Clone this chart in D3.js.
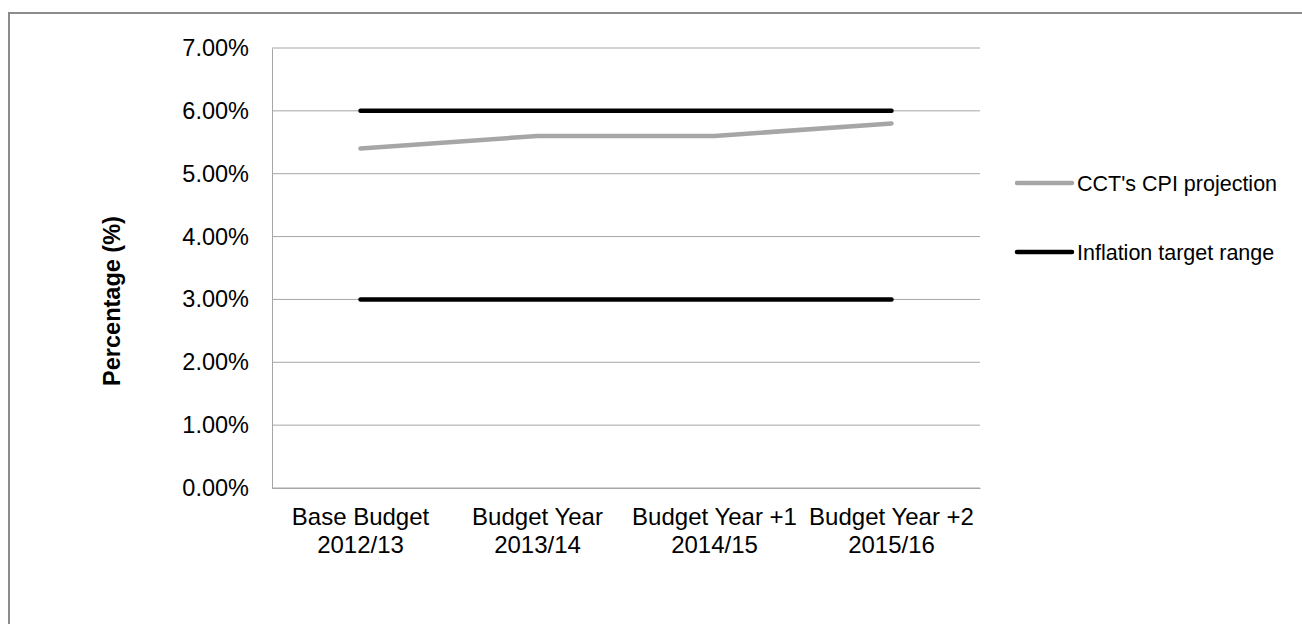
<!DOCTYPE html>
<html>
<head>
<meta charset="utf-8">
<script src="https://cdn.jsdelivr.net/npm/d3@7"></script>
<style>
  html, body { margin: 0; padding: 0; background: #fff; }
  svg { display: block; font-family: "Liberation Sans", Arial, sans-serif; }
</style>
</head>
<body>
<svg id="chart" width="1302" height="624"></svg>
<script>
// Budget periods along the x axis (two-line labels)
const categories = [
  ["Base Budget", "2012/13"],
  ["Budget Year", "2013/14"],
  ["Budget Year +1", "2014/15"],
  ["Budget Year +2", "2015/16"]
];
// CPI projection, percent
const cpiProjection = [5.4, 5.6, 5.6, 5.8];
// Inflation target band, lower and upper bounds, percent
const targetUpper = [6.0, 6.0, 6.0, 6.0];
const targetLower = [3.0, 3.0, 3.0, 3.0];
const yTicks = [0, 1, 2, 3, 4, 5, 6, 7];
const legendLabels = ["CCT's CPI projection", "Inflation target range"];

const svg = d3.select("#chart");
const margin = { left: 272, right: 322, top: 48, bottom: 136 };
const W = 1302, H = 624;
const FONT = "Liberation Sans, Arial, sans-serif";

// Outer chart frame
svg.append("rect")
  .attr("x", 9).attr("y", 13)
  .attr("width", W).attr("height", H)
  .attr("fill", "none").attr("stroke", "#8c8c8c").attr("stroke-width", 2);

const x = d3.scaleBand()
  .domain(categories.map((d, i) => i))
  .range([margin.left, W - margin.right]);

const y = d3.scaleLinear()
  .domain([0, 7])
  .range([H - margin.bottom, margin.top]);

// Horizontal gridlines
svg.append("g")
  .selectAll("line")
  .data(yTicks)
  .join("line")
  .attr("x1", margin.left).attr("x2", W - margin.right)
  .attr("y1", d => y(d)).attr("y2", d => y(d))
  .attr("stroke", "#a6a6a6").attr("stroke-width", 1);

// Y axis
const yAxis = svg.append("g")
  .attr("transform", `translate(${margin.left},0)`)
  .call(d3.axisLeft(y).tickValues(yTicks).tickSize(0).tickPadding(23)
    .tickFormat(d => d.toFixed(2) + "%"));
yAxis.select(".domain").attr("stroke", "#a6a6a6");
yAxis.selectAll("text").attr("font-size", "23.5px").attr("fill", "#000")
  .attr("font-family", FONT);

// X axis
const xAxis = svg.append("g")
  .attr("transform", `translate(0,${y(0)})`)
  .call(d3.axisBottom(x).tickSize(0).tickFormat(""));
xAxis.select(".domain").attr("stroke", "#a6a6a6");
xAxis.selectAll(".tick").each(function(d) {
  const t = d3.select(this).select("text")
    .attr("y", 0).attr("dy", 0)
    .attr("font-size", "24px").attr("fill", "#000")
    .attr("font-family", FONT);
  t.selectAll("tspan")
    .data(categories[d])
    .join("tspan")
    .attr("x", 0)
    .attr("y", (s, j) => 37 + j * 28)
    .text(s => s);
});

// Y axis title
svg.append("text")
  .attr("transform", `translate(120,301) rotate(-90)`)
  .attr("text-anchor", "middle")
  .attr("font-size", "23.5px").attr("font-weight", "bold")
  .text("Percentage (%)");

const cx = i => x(i) + x.bandwidth() / 2;
const line = d3.line().x((d, i) => cx(i)).y(d => y(d));

const series = [
  { values: targetUpper, color: "#000000" },
  { values: targetLower, color: "#000000" },
  { values: cpiProjection, color: "#a6a6a6" }
];
svg.append("g")
  .selectAll("path")
  .data(series)
  .join("path")
  .attr("d", d => line(d.values))
  .attr("fill", "none")
  .attr("stroke", d => d.color)
  .attr("stroke-width", 4.5)
  .attr("stroke-linecap", "round")
  .attr("stroke-linejoin", "round");

// Legend
const legendItems = [
  { label: legendLabels[0], color: "#a6a6a6", y: 183 },
  { label: legendLabels[1], color: "#000000", y: 252 }
];
const lg = svg.append("g");
legendItems.forEach(item => {
  lg.append("line")
    .attr("x1", 1017).attr("x2", 1072)
    .attr("y1", item.y).attr("y2", item.y)
    .attr("stroke", item.color).attr("stroke-width", 4.5)
    .attr("stroke-linecap", "round");
  lg.append("text")
    .attr("x", 1077).attr("y", item.y)
    .attr("dy", "0.35em")
    .attr("font-size", "21.5px")
    .attr("font-family", FONT)
    .text(item.label);
});
</script>
</body>
</html>
